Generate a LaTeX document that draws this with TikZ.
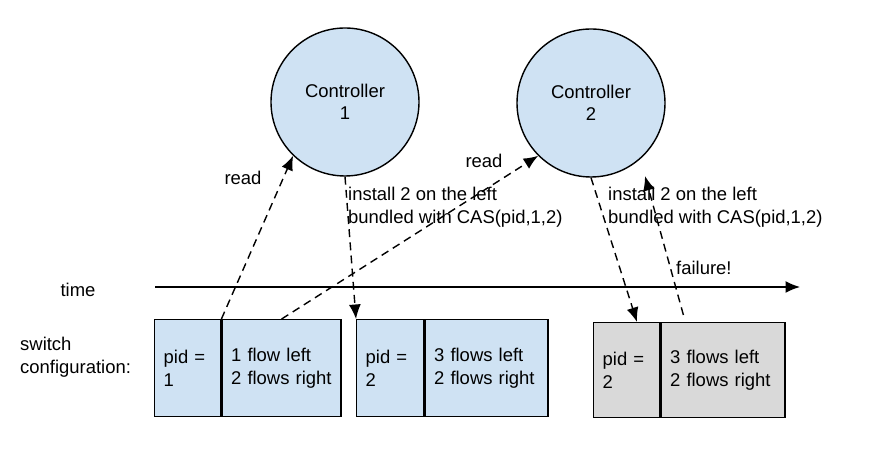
\documentclass[tikz,border=0pt]{standalone}
\usepackage{fontspec}
\setmainfont{Liberation Sans}
\usetikzlibrary{arrows.meta}
\definecolor{ctrlblue}{HTML}{CFE2F3}
\definecolor{failgray}{HTML}{D9D9D9}
\tikzset{
	ctrl/.style={circle, draw, line width=.8pt, fill=ctrlblue, minimum size=2.96cm, align=center, inner sep=0pt},
	cell/.style={draw, line width=.8pt, anchor=north west, minimum height=1.94cm, inner xsep=.18cm, inner ysep=0pt, align=left, text width=#1},
	msg/.style={line width=.8pt, dash pattern=on 4.5pt off 3pt, -{Latex[length=2.9mm,width=2.4mm]}},
	timeline/.style={line width=.8pt, -{Latex[length=2.9mm,width=2.4mm]}},
}
\begin{document}
\begin{tikzpicture}[font=\fontsize{10.5}{12.8}\selectfont]
\useasboundingbox (0,0) rectangle (17.46,9.1);
% controllers
\node (c1)[ctrl] at (6.9,7.06) {Controller\\1} ;
\node (c2)[ctrl] at (11.82,7.04) {Controller\\2} ;

% time axis
\node (time) at (1.56,3.3) {time} ;
\coordinate (t0) at (3.1,3.36) ;
\coordinate (t1) at (16,3.36) ;
\draw[timeline] (t0) -- (t1) ;

\node (sw)[anchor=west, align=left] at (0.28,1.96) {switch\\configuration:} ;

% switch states
\node (pid1)[cell=.96cm, fill=ctrlblue] at (3.08,2.72) {pid =\\1} ;
\node (fl1)[cell=2.02cm, fill=ctrlblue] at (pid1.north east) {1 flow left\\2 flows right} ;
\node (pid2)[cell=.98cm, fill=ctrlblue] at (7.12,2.72) {pid =\\2} ;
\node (fl2)[cell=2.10cm, fill=ctrlblue] at (pid2.north east) {3 flows left\\2 flows right} ;
\node (pid3)[cell=.96cm, fill=failgray, minimum height=1.9cm] at (11.86,2.66) {pid =\\2} ;
\node (fl3)[cell=2.12cm, fill=failgray, minimum height=1.9cm] at (pid3.north east) {3 flows left\\2 flows right} ;

% messages
\node (rd1) at (4.86,5.54) {read} ;
\node (rd2) at (9.68,5.88) {read} ;
\node (in1)[anchor=west, align=left] at (6.84,4.96) {install 2 on the left\\bundled with CAS(pid,1,2)} ;
\node (in2)[anchor=west, align=left] at (12.04,4.96) {install 2 on the left\\bundled with CAS(pid,1,2)} ;
\node (fl)[anchor=west] at (13.4,3.74) {failure!} ;

\draw[msg] (pid1.north east) -- (c1.226) ;
\draw[msg] (fl1.north) -- (c2.225) ;
\draw[msg] (c1.south) -- (pid2.north west) ;
\draw[msg] (c2.south) -- ([xshift=.88cm]pid3.north west) ;
\coordinate (fail) at (12.9,5.58) ;
\draw[msg] ([xshift=.46cm,yshift=.14cm]fl3.north west) -- (fail) ;
\end{tikzpicture}
\end{document}
